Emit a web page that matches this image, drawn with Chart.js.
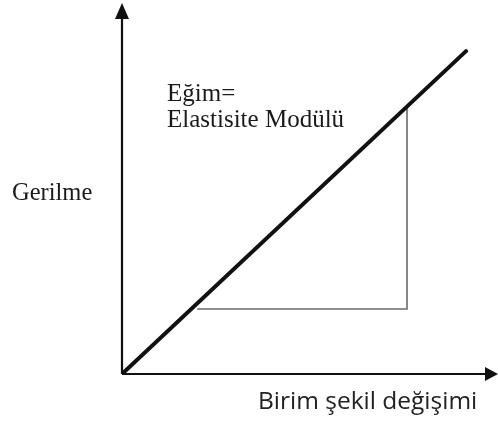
<!DOCTYPE html>
<html>
<head>
<meta charset="utf-8">
<script src="https://cdn.jsdelivr.net/npm/chart.js@4/dist/chart.umd.min.js"></script>
<style>
  html, body { margin: 0; padding: 0; background: #fff; }
  #wrap { width: 498px; height: 421px; position: relative; }
</style>
</head>
<body>
<div id="wrap"><canvas id="chart_stressStrain"></canvas></div>
<script>
// values in arbitrary units (0..100 on both axes)
const slopeLineX = [0, 91.5];
const slopeLineY = [0, 87.5];
const triangleX = [20, 75.8, 75.8];
const triangleY = [17.6, 17.6, 72.2];
const slopeLabel = ['Eğim=', 'Elastisite Modülü'];
const yAxisLabel = 'Gerilme';
const xAxisLabel = 'Birim şekil değişimi';

function toPoints(xs, ys) {
    return xs.map((x, i) => ({ x: x, y: ys[i] }));
}

var chart_stressStrain = new Chart(document.getElementById('chart_stressStrain'), {
    type: 'scatter',
    data: {
        datasets: [
            {
                label: 'Eğim',
                data: toPoints(slopeLineX, slopeLineY),
                showLine: true,
                borderColor: '#111',
                borderWidth: 4,
                borderCapStyle: 'round',
                pointRadius: 0
            },
            {
                label: 'Üçgen',
                data: toPoints(triangleX, triangleY),
                showLine: true,
                borderColor: '#6a6a6a',
                borderWidth: 1.6,
                pointRadius: 0
            }
        ]
    },
    options: {
        animation: false,
        responsive: true,
        maintainAspectRatio: false,
        layout: {
            padding: { left: 122, right: 0, top: 5, bottom: 47 }
        },
        plugins: {
            legend: { display: false },
            tooltip: { enabled: false },
            title: { display: false }
        },
        scales: {
            x: { type: 'linear', min: 0, max: 100, display: false },
            y: { type: 'linear', min: 0, max: 100, display: false }
        }
    },
    plugins: [{
        id: 'axesAndText',
        beforeDraw: (chart) => {
            const ctx = chart.ctx;
            ctx.save();
            ctx.fillStyle = 'white';
            ctx.fillRect(0, 0, chart.width, chart.height);
            ctx.restore();
        },
        afterDraw: (chart) => {
            const ctx = chart.ctx;
            const xs = chart.scales.x, ys = chart.scales.y;
            const ox = xs.getPixelForValue(0), oy = ys.getPixelForValue(0);
            const xEnd = xs.getPixelForValue(100), yEnd = ys.getPixelForValue(100);
            ctx.save();
            ctx.strokeStyle = '#111';
            ctx.fillStyle = '#111';
            ctx.lineWidth = 2.2;
            // y axis
            ctx.beginPath();
            ctx.moveTo(ox, oy);
            ctx.lineTo(ox, yEnd + 12);
            ctx.stroke();
            ctx.beginPath();
            ctx.moveTo(ox, yEnd - 2);
            ctx.lineTo(ox - 7, yEnd + 14);
            ctx.lineTo(ox + 7, yEnd + 14);
            ctx.closePath();
            ctx.fill();
            // x axis
            ctx.beginPath();
            ctx.moveTo(ox, oy);
            ctx.lineTo(xEnd - 12, oy);
            ctx.stroke();
            ctx.beginPath();
            ctx.moveTo(xEnd, oy);
            ctx.lineTo(xEnd - 13, oy - 7);
            ctx.lineTo(xEnd - 13, oy + 7);
            ctx.closePath();
            ctx.fill();

            // texts
            ctx.fillStyle = '#1a1a1a';
            ctx.textBaseline = 'alphabetic';
            ctx.textAlign = 'left';
            ctx.font = '25px "Liberation Serif"';
            ctx.fillText(slopeLabel[0], 167, 101);
            ctx.fillText(slopeLabel[1], 167, 127);
            ctx.font = '24.5px "Liberation Serif"';
            ctx.fillText(yAxisLabel, 12, 200);
            ctx.font = '24.5px "Open Sans"';
            ctx.fillStyle = '#222';
            ctx.fillText(xAxisLabel, 258, 409);
            ctx.restore();
        }
    }]
});
</script>
</body>
</html>
